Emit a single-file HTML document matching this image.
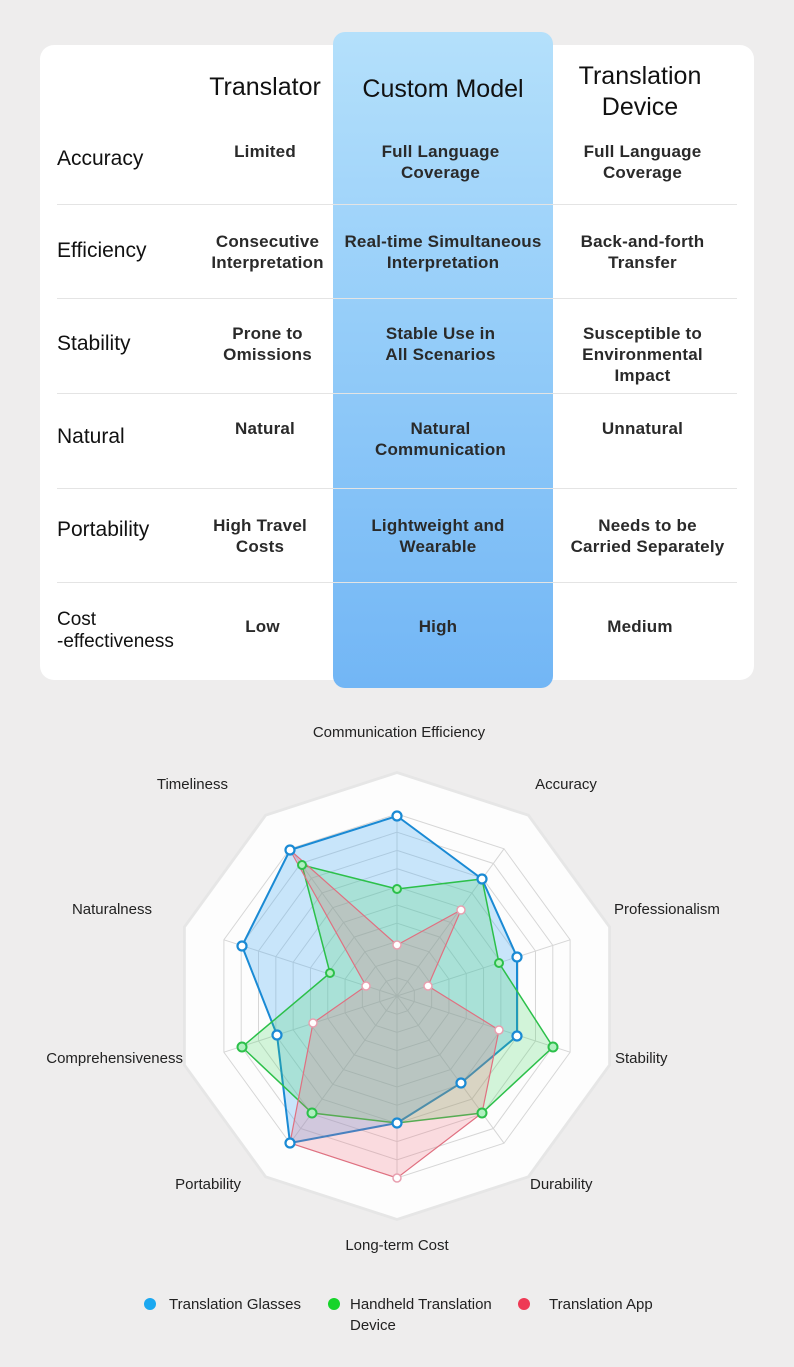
<!DOCTYPE html>
<html><head><meta charset="utf-8"><style>
body{margin:0;background:#eeeded;font-family:"Liberation Sans",sans-serif;}
.wrap{position:relative;width:794px;height:1367px;overflow:hidden;background:#eeeded;}
.card{position:absolute;left:40px;top:45px;width:714px;height:635px;background:#fff;border-radius:14px;}
.col{position:absolute;left:333px;top:32px;width:220px;height:656px;border-radius:12px;background:linear-gradient(180deg,#b4e0fb 0%,#95cdf9 45%,#72b6f5 100%);}
.t{position:absolute;text-align:center;color:#111;}
.h{font-size:25px;line-height:31px;}
.r{font-size:21px;text-align:left;left:57px;line-height:22px;}
.c{font-size:17px;font-weight:bold;line-height:21px;color:#2a2a2a;letter-spacing:0.2px;}
.sep{position:absolute;height:1px;background:#e4e4e4;left:57px;width:680px;}
.lbl{font-size:15px;fill:#222;}
</style></head><body><div class="wrap">
<div class="card"></div>
<div class="col"></div>
<div class="sep" style="top:204px"></div><div class="sep" style="top:298px"></div><div class="sep" style="top:393px"></div><div class="sep" style="top:488px"></div><div class="sep" style="top:582px"></div>
<div class="t h" style="left:190px;width:150px;top:72px">Translator</div>
<div class="t h" style="left:333px;width:220px;top:74px">Custom Model</div>
<div class="t h" style="left:560px;width:160px;top:61px">Translation<br>Device</div>

<div class="t r" style="top:148px">Accuracy</div>
<div class="t r" style="top:240px">Efficiency</div>
<div class="t r" style="top:333px">Stability</div>
<div class="t r" style="top:426px">Natural</div>
<div class="t r" style="top:519px">Portability</div>
<div class="t r" style="top:609px;font-size:19px">Cost<br>-effectiveness</div>

<div class="t c" style="left:190px;width:150px;top:141px">Limited</div>
<div class="t c" style="left:333px;width:215px;top:141px">Full Language<br>Coverage</div>
<div class="t c" style="left:560px;width:165px;top:141px">Full Language<br>Coverage</div>

<div class="t c" style="left:190px;width:155px;top:231px">Consecutive<br>Interpretation</div>
<div class="t c" style="left:333px;width:220px;top:231px">Real-time Simultaneous<br>Interpretation</div>
<div class="t c" style="left:560px;width:165px;top:231px">Back-and-forth<br>Transfer</div>

<div class="t c" style="left:190px;width:155px;top:323px">Prone to<br>Omissions</div>
<div class="t c" style="left:333px;width:215px;top:323px">Stable Use in<br>All Scenarios</div>
<div class="t c" style="left:560px;width:165px;top:323px">Susceptible to<br>Environmental<br>Impact</div>

<div class="t c" style="left:190px;width:150px;top:418px">Natural</div>
<div class="t c" style="left:333px;width:215px;top:418px">Natural<br>Communication</div>
<div class="t c" style="left:560px;width:165px;top:418px">Unnatural</div>

<div class="t c" style="left:185px;width:150px;top:515px">High Travel<br>Costs</div>
<div class="t c" style="left:333px;width:210px;top:515px">Lightweight and<br>Wearable</div>
<div class="t c" style="left:560px;width:175px;top:515px">Needs to be<br>Carried Separately</div>

<div class="t c" style="left:190px;width:145px;top:616px">Low</div>
<div class="t c" style="left:333px;width:210px;top:616px">High</div>
<div class="t c" style="left:560px;width:160px;top:616px">Medium</div>

<svg width="794" height="1367" style="position:absolute;left:0;top:0">
<defs>
<polygon id="dec" points="0,-1 0.5878,-0.809 0.9511,-0.309 0.9511,0.309 0.5878,0.809 0,1 -0.5878,0.809 -0.9511,0.309 -0.9511,-0.309 -0.5878,-0.809"/>
</defs>
<g transform="translate(397,996)">
<use href="#dec" transform="scale(225)" fill="#e6e6e6"/>
<use href="#dec" transform="scale(222)" fill="#fdfdfd"/>
<g fill="none" stroke="#d6d6d6">
<use href="#dec" transform="scale(182)" style="stroke-width:0.0055"/>
<use href="#dec" transform="scale(163.8)" style="stroke-width:0.0061"/>
<use href="#dec" transform="scale(145.6)" style="stroke-width:0.0069"/>
<use href="#dec" transform="scale(127.4)" style="stroke-width:0.0078"/>
<use href="#dec" transform="scale(109.2)" style="stroke-width:0.0092"/>
<use href="#dec" transform="scale(91)" style="stroke-width:0.011"/>
<use href="#dec" transform="scale(72.8)" style="stroke-width:0.0137"/>
<use href="#dec" transform="scale(54.6)" style="stroke-width:0.0183"/>
<use href="#dec" transform="scale(36.4)" style="stroke-width:0.0275"/>
<use href="#dec" transform="scale(18.2)" style="stroke-width:0.055"/>
</g>
<g stroke="#d6d6d6" stroke-width="1">
<line x1="0" y1="0" x2="0" y2="-182"/><line x1="0" y1="0" x2="107" y2="-147.2"/><line x1="0" y1="0" x2="173.1" y2="-56.2"/><line x1="0" y1="0" x2="173.1" y2="56.2"/><line x1="0" y1="0" x2="107" y2="147.2"/><line x1="0" y1="0" x2="0" y2="182"/><line x1="0" y1="0" x2="-107" y2="147.2"/><line x1="0" y1="0" x2="-173.1" y2="56.2"/><line x1="0" y1="0" x2="-173.1" y2="-56.2"/><line x1="0" y1="0" x2="-107" y2="-147.2"/>
</g>
</g>
<polygon points="397,816 482,879 517,957 517,1036 461,1083 397,1123 290,1143 277,1035 242,946 290,850" fill="rgba(80,175,245,0.3)" stroke="#1a8ad4" stroke-width="2"/>
<polygon points="397,889 482,879 499,963 553,1047 482,1113 397,1123 312,1113 242,1047 330,973 302,865" fill="rgba(60,215,90,0.22)" stroke="#2cc04a" stroke-width="1.5"/>
<polygon points="397,945 461,910 428,986 499,1030 482,1113 397,1178 290,1143 313,1023 366,986 290,850" fill="rgba(240,100,120,0.22)" stroke="#e07080" stroke-width="1.2"/>
<g fill="#fff" stroke="#e8a0b0" stroke-width="1.5">
<circle cx="397" cy="945" r="4"/><circle cx="461" cy="910" r="4"/><circle cx="428" cy="986" r="4"/><circle cx="499" cy="1030" r="4"/><circle cx="397" cy="1178" r="4"/><circle cx="313" cy="1023" r="4"/><circle cx="366" cy="986" r="4"/>
</g>
<g fill="#b0f0c0" stroke="#2cc04a" stroke-width="2">
<circle cx="397" cy="889" r="4"/><circle cx="499" cy="963" r="4"/><circle cx="553" cy="1047" r="4.5"/><circle cx="482" cy="1113" r="4.5"/><circle cx="312" cy="1113" r="4.5"/><circle cx="242" cy="1047" r="4.5"/><circle cx="330" cy="973" r="4"/><circle cx="302" cy="865" r="4"/>
</g>
<g fill="#fff" stroke="#1a8ad4" stroke-width="2.2">
<circle cx="397" cy="816" r="4.5"/><circle cx="482" cy="879" r="4.5"/><circle cx="517" cy="957" r="4.5"/><circle cx="517" cy="1036" r="4.5"/><circle cx="461" cy="1083" r="4.5"/><circle cx="397" cy="1123" r="4.5"/><circle cx="290" cy="1143" r="4.5"/><circle cx="277" cy="1035" r="4.5"/><circle cx="242" cy="946" r="4.5"/><circle cx="290" cy="850" r="4.5"/>
</g>
<g class="lbl">
<text x="399" y="737" text-anchor="middle">Communication Efficiency</text>
<text x="566" y="789" text-anchor="middle">Accuracy</text>
<text x="614" y="914">Professionalism</text>
<text x="615" y="1063">Stability</text>
<text x="530" y="1189">Durability</text>
<text x="397" y="1250" text-anchor="middle">Long-term Cost</text>
<text x="241" y="1189" text-anchor="end">Portability</text>
<text x="183" y="1063" text-anchor="end">Comprehensiveness</text>
<text x="152" y="914" text-anchor="end">Naturalness</text>
<text x="228" y="789" text-anchor="end">Timeliness</text>
</g>
<circle cx="150" cy="1304" r="6" fill="#1ba8f0"/>
<circle cx="334" cy="1304" r="6" fill="#16d42a"/>
<circle cx="524" cy="1304" r="6" fill="#ee3a55"/>
<g class="lbl">
<text x="169" y="1309">Translation Glasses</text>
<text x="350" y="1309">Handheld Translation</text>
<text x="350" y="1330">Device</text>
<text x="549" y="1309">Translation App</text>
</g>
</svg>
</div></body></html>
